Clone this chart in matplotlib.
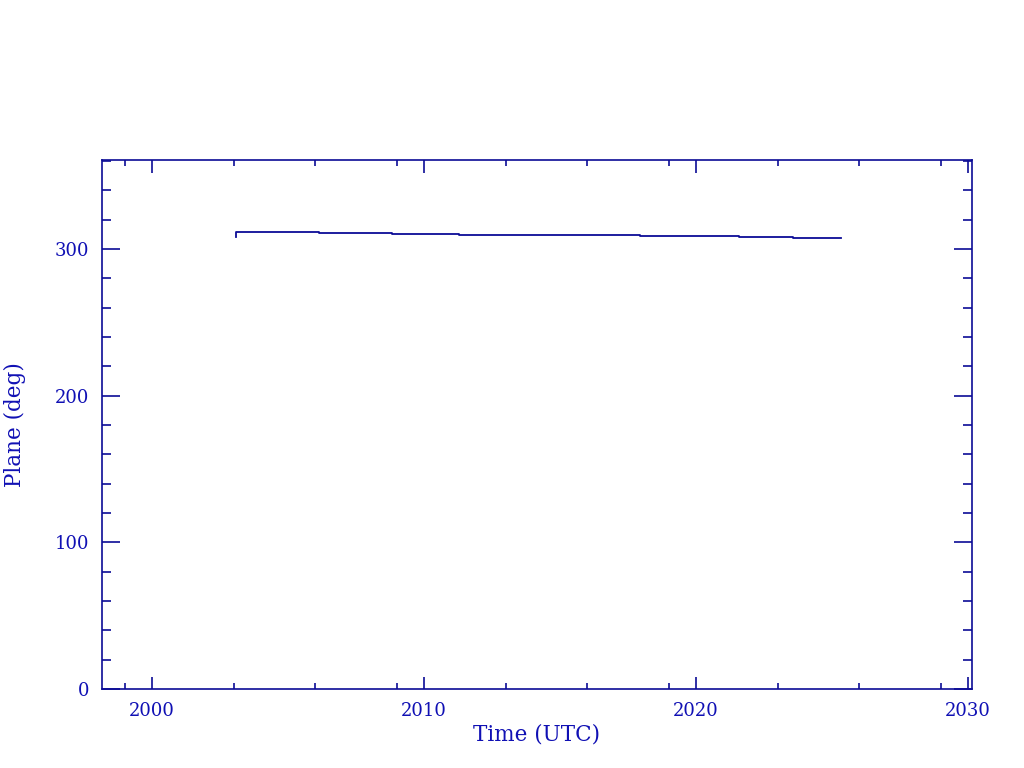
import matplotlib
matplotlib.use("Agg")
import matplotlib.pyplot as plt
from matplotlib.ticker import FixedLocator, MultipleLocator

# step changes of the orbital plane (decimal year, deg)
years = [2003.09, 2003.10, 2006.15, 2008.84, 2011.30, 2017.94, 2021.58, 2023.57, 2025.32]
plane = [308.0, 311.4, 310.7, 310.0, 309.3, 308.6, 308.0, 307.3, 307.3]

major_years = [2000, 2010, 2020, 2030]
minor_years = [1999, 2003, 2006, 2009, 2013, 2016, 2019, 2023, 2026, 2029]

blue = "#0c0c96"
txt = "#1010b4"

plt.rcParams["font.family"] = ["DejaVu Serif"]

fig = plt.figure(figsize=(10.24, 7.68), dpi=100)
ax = fig.add_axes([102 / 1024, 79 / 768, 870 / 1024, 529 / 768])

ax.plot(years, plane, drawstyle="steps-post", color=blue, lw=1.3)

ax.set_xlim(1998.16, 2030.15)
ax.set_ylim(0, 360.7)

ax.xaxis.set_major_locator(FixedLocator(major_years))
ax.xaxis.set_minor_locator(FixedLocator(minor_years))
ax.yaxis.set_major_locator(MultipleLocator(100))
ax.yaxis.set_minor_locator(MultipleLocator(20))

for s in ax.spines.values():
    s.set_color(blue)
    s.set_linewidth(1.2)

ax.tick_params(axis="both", which="both", direction="in", top=True, right=True,
               color=blue, width=1.2, labelcolor=txt, labelsize=13)
ax.tick_params(axis="x", which="major", length=9, pad=9)
ax.tick_params(axis="x", which="minor", length=4.5)
ax.tick_params(axis="y", which="major", length=13, pad=9)
ax.tick_params(axis="y", which="minor", length=6.5)

ax.set_xlabel("Time (UTC)", color=txt, fontsize=15.5, labelpad=3)
ax.set_ylabel("Plane (deg)", color=txt, fontsize=15.5, labelpad=21)

fig.savefig("out.png", dpi=100)
